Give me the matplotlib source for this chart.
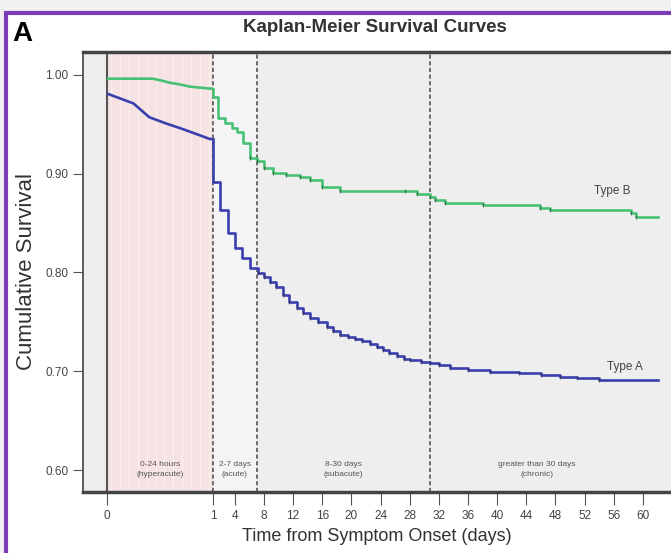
import numpy as np
import matplotlib
matplotlib.use("Agg")
import matplotlib.pyplot as plt
from matplotlib.patches import Rectangle

plt.rcParams['font.family'] = ['Liberation Sans', 'DejaVu Sans']

# survival data (time in days)
type_a_days = [0, 0.25, 0.40, 0.55, 0.69, 0.87, 0.97,
               1.0, 1.96, 3.1, 4.0, 5.0, 6.1, 7.2, 8.0, 8.8, 9.6, 10.6, 11.5, 12.5,
               13.4, 14.3, 15.4, 16.6, 17.5, 18.4, 19.5, 20.5, 21.5, 22.5, 23.5, 24.4,
               25.2, 26.3, 27.2, 28.0, 29.5, 30.8, 32.0, 33.5, 36.0, 39.0, 43.0, 46.0,
               48.6, 51.0, 54.0, 62.0]
type_a_surv = [0.981, 0.971, 0.957, 0.951, 0.946, 0.939, 0.935,
               0.892, 0.863, 0.840, 0.825, 0.815, 0.805, 0.799, 0.795, 0.790, 0.785, 0.777, 0.770, 0.764,
               0.759, 0.754, 0.750, 0.745, 0.741, 0.737, 0.735, 0.733, 0.731, 0.728, 0.725, 0.722,
               0.719, 0.716, 0.713, 0.711, 0.709, 0.708, 0.706, 0.703, 0.701, 0.699, 0.698, 0.696,
               0.694, 0.693, 0.691, 0.691]

type_b_days = [0, 0.43, 0.52, 0.59, 0.70, 0.78, 0.97,
               1.0, 1.7, 2.6, 3.6, 4.3, 5.1, 6.1, 7.0, 8.0, 9.2, 11.0, 12.9, 14.3, 16.0,
               18.4, 27.3, 29.0, 30.8, 31.5, 32.8, 38.0, 45.9, 47.2, 58.3, 59.0, 62.0]
type_b_surv = [0.996, 0.996, 0.994, 0.992, 0.990, 0.988, 0.986,
               0.977, 0.956, 0.951, 0.946, 0.942, 0.931, 0.916, 0.913, 0.906, 0.901, 0.899, 0.897, 0.894, 0.886,
               0.882, 0.882, 0.879, 0.876, 0.873, 0.870, 0.868, 0.865, 0.863, 0.860, 0.856, 0.856]

x_ticks = [0, 1, 4, 8, 12, 16, 20, 24, 28, 32, 36, 40, 44, 48, 52, 56, 60]
y_ticks = [0.60, 0.70, 0.80, 0.90, 1.00]
phase_edges = [0, 1, 7, 30.8]
phase_labels = ["0-24 hours\n(hyperacute)", "2-7 days\n(acute)",
                "8-30 days\n(subacute)", "greater than 30 days\n(chronic)"]

K = 14.54  # width of the first day on the axis, in days


def fwd(x):
    x = np.asarray(x, dtype=float)
    return np.where(x < 1, x * K, K + x - 1)


def inv(y):
    y = np.asarray(y, dtype=float)
    return np.where(y < K, y / K, y - K + 1)


fig = plt.figure(figsize=(6.71, 5.53), dpi=100)
fig.patch.set_facecolor('#f1f1f1')
fig.add_artist(Rectangle((6 / 671, -0.1), 1.2, 1.1 - 13 / 553, transform=fig.transFigure,
                         facecolor='white', edgecolor='#7b3db5', lw=3, zorder=-1))

ax = fig.add_axes([83 / 671, 61 / 553, 1 - 83 / 671, 440 / 553])
ax.set_xscale('function', functions=(fwd, inv))
ax.set_xlim(-0.226, 63.85)
ax.set_ylim(0.578, 1.023)
ax.set_facecolor('#eeeeee')

# phase backgrounds
ax.axvspan(0, 1, color='#f6e2e2', lw=0, zorder=0)
for h in range(1, 24, 2):
    ax.axvline(h / 24, color='white', lw=1.0, alpha=0.45, zorder=0.5)
ax.axvspan(1, 7, color='#f4f4f7', lw=0, zorder=0)

ax.axvline(0, color='#555555', lw=1.5, zorder=1)
for e in phase_edges[1:]:
    ax.axvline(e, color='#555555', lw=1.2, ls=(0, (2.5, 1.5)), zorder=1)

# phase labels
bounds = phase_edges + [60]
for i, lab in enumerate(phase_labels):
    xc = inv((fwd(bounds[i]) + fwd(bounds[i + 1])) / 2)
    ax.text(float(xc), 0.601, lab, ha='center', va='center', fontsize=6,
            color='#555555', linespacing=1.6)

# curves: hyperacute part as plain line, rest as steps
for days, surv, col in [(type_b_days, type_b_surv, '#47c174'),
                        (type_a_days, type_a_surv, '#3a3fae')]:
    n = days.index(1.0)
    ax.plot(days[:n + 1], surv[:n] + [surv[n - 1]], color=col, lw=1.9, zorder=3,
            solid_capstyle='butt')
    ax.plot([days[n]] + days[n:], [surv[n - 1]] + surv[n:], color=col, lw=1.9,
            drawstyle='steps-post', zorder=3)
    ax.plot(days[n + 6:-1], surv[n + 6:-1], ls='none', marker='|', ms=3, mew=0.8,
            color='#333333', alpha=0.6, zorder=4)

ax.text(inv((612 - 107) / 7.288), 0.882, "Type B", fontsize=8.5, color='#444444',
        ha='center', va='center')
ax.text(inv((625 - 107) / 7.288), 0.704, "Type A", fontsize=8.5, color='#444444',
        ha='center', va='center')

ax.set_xticks(x_ticks)
ax.set_xticklabels([str(t) for t in x_ticks])
ax.set_yticks(y_ticks)
ax.set_yticklabels(["%.2f" % v for v in y_ticks])
ax.tick_params(axis='both', direction='out', length=7, width=0.8, color='#555555',
               labelsize=8.5, labelcolor='#444444')
ax.tick_params(axis='x', length=9, pad=4)

for s in ['top', 'bottom']:
    ax.spines[s].set_linewidth(2.5)
    ax.spines[s].set_color('#444444')
ax.spines['left'].set_linewidth(1.2)
ax.spines['left'].set_color('#444444')
ax.spines['right'].set_visible(False)

ax.set_ylabel("Cumulative Survival", fontsize=16, color='#333333', labelpad=6)
ax.set_xlabel("Time from Symptom Onset (days)", fontsize=13, color='#333333', labelpad=4)
fig.text(375 / 671, 1 - 28 / 553, "Kaplan-Meier Survival Curves", fontsize=13.5,
         fontweight='bold', color='#333333', ha='center', va='center')
fig.text(12 / 671, 1 - 34 / 553, "A", fontsize=20, fontweight='bold', color='black',
         ha='left', va='center')

fig.savefig("out.png", dpi=100, facecolor=fig.get_facecolor())
